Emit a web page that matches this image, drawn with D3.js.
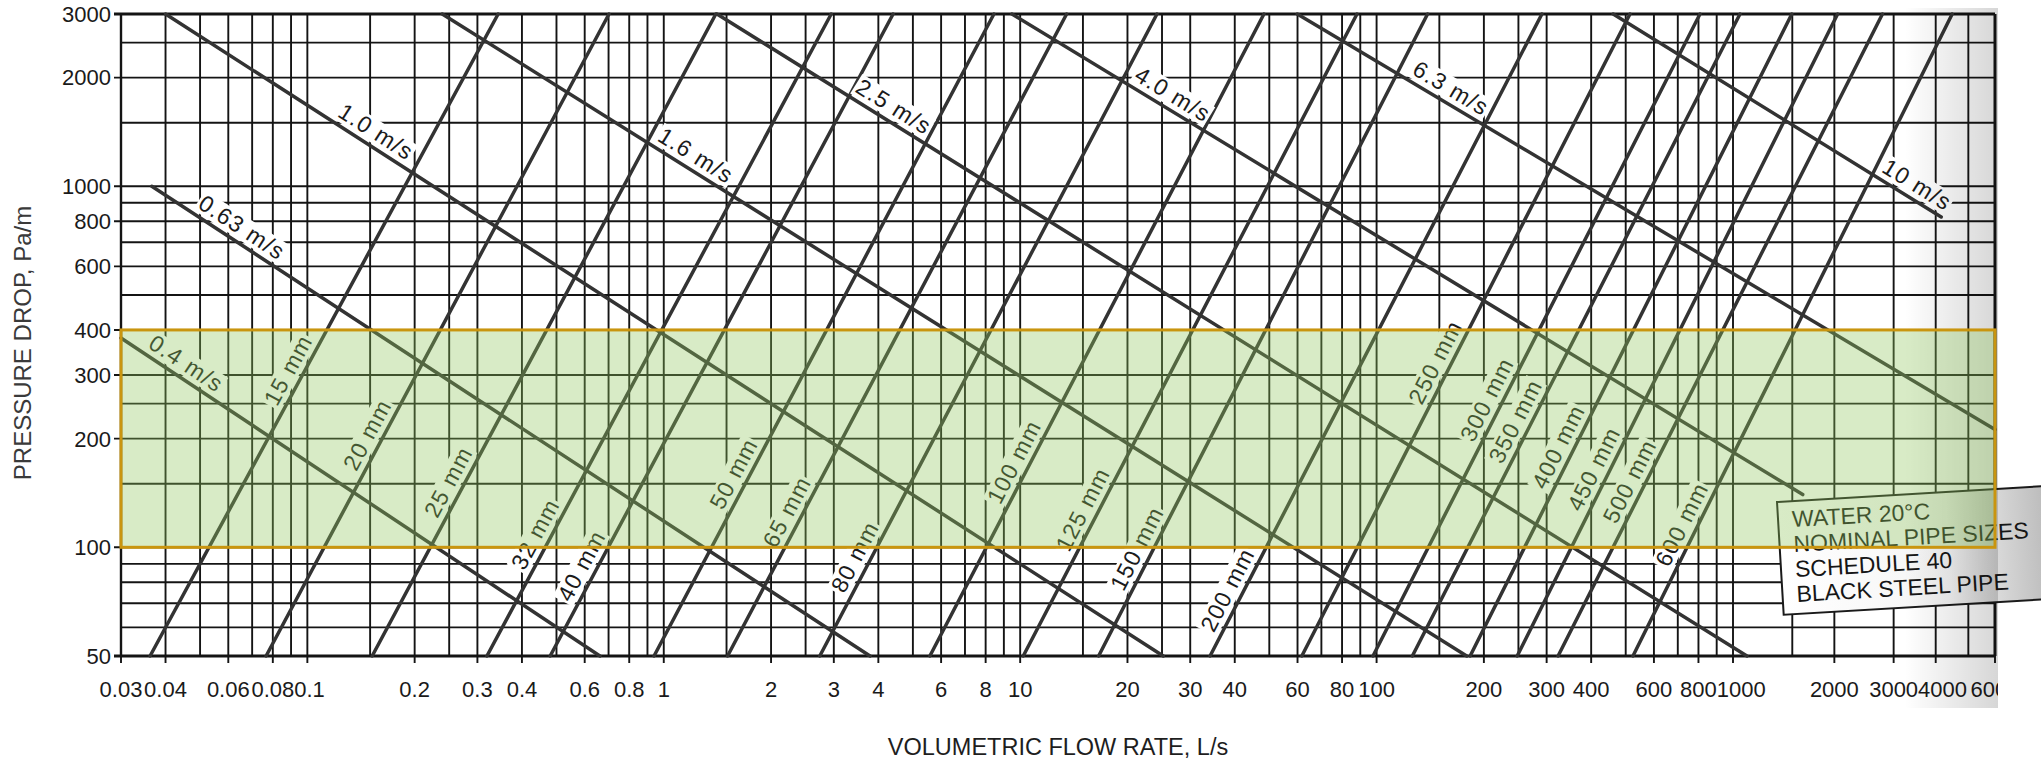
<!DOCTYPE html>
<html>
<head>
<meta charset="utf-8">
<script src="https://cdn.jsdelivr.net/npm/d3@7"></script>
<style>
  html, body { margin: 0; padding: 0; background: #ffffff; }
  svg { display: block; font-family: "Liberation Sans", Arial, Helvetica, sans-serif; }
</style>
</head>
<body>
<svg id="chart" width="2041" height="761"></svg>
<script>
// ---- grid and tick values ----
const flowGrid = [0.03, 0.04, 0.05, 0.06, 0.07, 0.08, 0.09,
  0.1, 0.15, 0.2, 0.25, 0.3, 0.4, 0.5, 0.6, 0.7, 0.8, 0.9,
  1, 1.5, 2, 2.5, 3, 4, 5, 6, 7, 8, 9,
  10, 15, 20, 25, 30, 40, 50, 60, 70, 80, 90,
  100, 150, 200, 250, 300, 400, 500, 600, 700, 800, 900,
  1000, 1500, 2000, 3000, 4000, 5000, 6000];
const flowTicks = [0.03, 0.04, 0.06, 0.08, 0.1, 0.2, 0.3, 0.4, 0.6, 0.8, 1, 2, 3, 4, 6, 8,
  10, 20, 30, 40, 60, 80, 100, 200, 300, 400, 600, 800, 1000, 2000, 3000, 4000, 6000];
const flowTickLabels = ["0.03", "0.04", "0.06", "0.08", "0.1", "0.2", "0.3", "0.4", "0.6", "0.8",
  "1", "2", "3", "4", "6", "8", "10", "20", "30", "40", "60", "80", "100", "200", "300", "400",
  "600", "800", "1000", "2000", "3000", "4000", "6000"];

const dropGrid = [50, 60, 70, 80, 90, 100, 150, 200, 250, 300, 400, 500, 600, 700, 800, 900,
  1000, 1500, 2000, 2500, 3000];
const dropTicks = [50, 100, 200, 300, 400, 600, 800, 1000, 2000, 3000];
const dropTickLabels = ["50", "100", "200", "300", "400", "600", "800", "1000", "2000", "3000"];

// ---- constant-velocity lines (flow L/s, pressure drop Pa/m at each end) ----
const velocityNames = ["0.4 m/s", "0.63 m/s", "1.0 m/s", "1.6 m/s", "2.5 m/s", "4.0 m/s", "6.3 m/s", "10 m/s"];
const velocityFromFlow = [0.03, 0.0366, 0.04, 0.239, 1.41, 9.48, 59.9, 461];
const velocityFromDrop = [380, 1000, 3000, 3000, 3000, 3000, 3000, 3000];
const velocityToFlow = [0.662, 3.79, 25.2, 179, 1100, 1611, 6000, 4153];
const velocityToDrop = [50, 50, 50, 50, 50, 140, 212, 822];
const velocityLabelFlow = [0.0434, 0.0622, 0.148, 1.17, 4.2, 25.5, 154, 3340];

// ---- nominal pipe size lines (flow at 50 Pa/m and at 3000 Pa/m) ----
const pipeNames = ["15 mm", "20 mm", "25 mm", "32 mm", "40 mm", "50 mm", "65 mm", "80 mm", "100 mm",
  "125 mm", "150 mm", "200 mm", "250 mm", "300 mm", "350 mm", "400 mm", "450 mm", "500 mm", "600 mm"];
const pipeFlowLow = [0.0362, 0.0766, 0.152, 0.319, 0.48, 0.939, 1.51, 2.74, 5.58,
  10.2, 16.6, 34.1, 61.7, 97.7, 126, 183, 248, 323, 524];
const pipeFlowHigh = [0.343, 0.702, 1.4, 2.95, 4.4, 8.44, 13.5, 24.2, 48.3,
  88.1, 139, 291, 514, 808, 1049, 1495, 2045, 2779, 4477];
const pipeDropLow = 50;
const pipeDropHigh = 3000;
const pipeLabelDrop = [296, 196, 145, 104, 85, 153, 120, 90, 165, 122, 95, 73, 312, 246, 214, 182, 158, 146, 111];

// ---- highlighted design band (Pa/m) ----
const bandDrop = [100, 400];

// ---- notes box ----
const noteLines = ["WATER 20°C", "NOMINAL PIPE SIZES", "SCHEDULE 40", "BLACK STEEL PIPE"];

const axisTitleX = "VOLUMETRIC FLOW RATE, L/s";
const axisTitleY = "PRESSURE DROP, Pa/m";

// ---- scales ----
const x = d3.scaleLog().domain([0.03, 1000, 6000]).range([121, 1733, 1995]);
const y = d3.scaleLog().domain([50, 3000]).range([656, 14]);

const svg = d3.select("#chart");
const defs = svg.append("defs");

const shade = defs.append("linearGradient").attr("id", "edgeShade")
  .attr("x1", "0").attr("x2", "1").attr("y1", "0").attr("y2", "0");
shade.append("stop").attr("offset", "0").attr("stop-color", "#000").attr("stop-opacity", 0);
shade.append("stop").attr("offset", "1").attr("stop-color", "#000").attr("stop-opacity", 0.16);

const boxShade = defs.append("linearGradient").attr("id", "boxShade")
  .attr("x1", "0").attr("x2", "1").attr("y1", "0").attr("y2", "0");
boxShade.append("stop").attr("offset", "0").attr("stop-color", "#ffffff");
boxShade.append("stop").attr("offset", "0.62").attr("stop-color", "#f4f4f4");
boxShade.append("stop").attr("offset", "1").attr("stop-color", "#b9b9b9");

defs.append("clipPath").attr("id", "labelClip")
  .append("rect").attr("x", 0).attr("y", 0).attr("width", 1998).attr("height", 761);

const [x0, x1] = [x(0.03), x(6000)];
const [yTop, yBot] = [y(3000), y(50)];

// ---- grid ----
const ink = "#141414";
const grid = svg.append("g");
grid.selectAll("line.v").data(flowGrid).join("line")
  .attr("x1", d => x(d)).attr("x2", d => x(d))
  .attr("y1", yTop).attr("y2", d => flowTicks.includes(d) ? yBot + 7 : yBot)
  .attr("stroke", ink).attr("stroke-width", 1.9);
grid.selectAll("line.h").data(dropGrid).join("line")
  .attr("y1", d => y(d)).attr("y2", d => y(d))
  .attr("x1", d => dropTicks.includes(d) ? x0 - 7 : x0).attr("x2", x1)
  .attr("stroke", ink).attr("stroke-width", 1.9);

// frame
grid.append("line").attr("x1", x0 - 7).attr("x2", x1).attr("y1", yTop).attr("y2", yTop)
  .attr("stroke", ink).attr("stroke-width", 3);
grid.append("line").attr("x1", x0 - 7).attr("x2", x1).attr("y1", yBot).attr("y2", yBot)
  .attr("stroke", ink).attr("stroke-width", 3);
grid.append("line").attr("x1", x0).attr("x2", x0).attr("y1", yTop).attr("y2", yBot)
  .attr("stroke", ink).attr("stroke-width", 2.4);
grid.append("line").attr("x1", x1).attr("x2", x1).attr("y1", yTop).attr("y2", yBot)
  .attr("stroke", ink).attr("stroke-width", 3);

// ---- diagonal lines ----
const velocity = velocityNames.map((name, i) => ({
  name,
  p1: [x(velocityFromFlow[i]), y(velocityFromDrop[i])],
  p2: [x(velocityToFlow[i]), y(velocityToDrop[i])],
  at: velocityLabelFlow[i]
}));
const pipes = pipeNames.map((name, i) => ({
  name,
  p1: [x(pipeFlowLow[i]), y(pipeDropLow)],
  p2: [x(pipeFlowHigh[i]), y(pipeDropHigh)],
  at: pipeLabelDrop[i]
}));

const lines = svg.append("g");
lines.selectAll("line.vel").data(velocity).join("line")
  .attr("x1", d => d.p1[0]).attr("y1", d => d.p1[1])
  .attr("x2", d => d.p2[0]).attr("y2", d => d.p2[1])
  .attr("stroke", "#333333").attr("stroke-width", 3.5).attr("stroke-linecap", "round");
lines.selectAll("line.pipe").data(pipes).join("line")
  .attr("x1", d => d.p1[0]).attr("y1", d => d.p1[1])
  .attr("x2", d => d.p2[0]).attr("y2", d => d.p2[1])
  .attr("stroke", "#333333").attr("stroke-width", 3.5).attr("stroke-linecap", "round");

// ---- line labels, each on a white knockout patch ----
function angleOf(d) {
  return Math.atan2(d.p2[1] - d.p1[1], d.p2[0] - d.p1[0]) * 180 / Math.PI;
}
const labelLayer = svg.append("g")
  .attr("font-size", 23).attr("letter-spacing", 1.2)
  .attr("fill", "#1b1b1b").attr("text-anchor", "middle");

function placeLabels(data, cls, pointOf) {
  const g = labelLayer.selectAll("g." + cls).data(data).join("g")
    .attr("class", cls)
    .attr("transform", d => {
      const [px, py] = pointOf(d);
      return `translate(${px},${py}) rotate(${angleOf(d)})`;
    });
  const patch = g.append("rect").attr("fill", "#ffffff");
  const txt = g.append("text").attr("y", -7).text(d => d.name);
  txt.each(function () {
    const b = this.getBBox();
    d3.select(this.parentNode).select("rect")
      .attr("x", b.x - 2).attr("width", b.width + 3)
      .attr("y", b.y + 2).attr("height", Math.min(b.height - 1, -3 - (b.y + 2)));
  });
}

placeLabels(velocity, "vel", d => {
  const px = x(d.at);
  const t = (px - d.p1[0]) / (d.p2[0] - d.p1[0]);
  return [px, d.p1[1] + t * (d.p2[1] - d.p1[1])];
});
placeLabels(pipes, "pipe", d => {
  const py = y(d.at);
  const t = (py - d.p1[1]) / (d.p2[1] - d.p1[1]);
  return [d.p1[0] + t * (d.p2[0] - d.p1[0]), py];
});

// ---- tick labels ----
const xLabels = svg.append("g").attr("clip-path", "url(#labelClip)")
  .attr("font-size", 22).attr("fill", "#1a1a1a").attr("text-anchor", "middle")
  .selectAll("text").data(flowTicks).join("text")
  .attr("x", d => x(d)).attr("y", 697)
  .text((d, i) => flowTickLabels[i]);

// nudge crowded flow labels to the right so neighbours just touch
let prevRight = -Infinity;
xLabels.each(function () {
  const w = this.getComputedTextLength();
  let cx = +this.getAttribute("x");
  if (cx - w / 2 < prevRight) cx = prevRight + w / 2;
  this.setAttribute("x", cx);
  prevRight = cx + w / 2;
});

svg.append("g")
  .attr("font-size", 22).attr("fill", "#1a1a1a").attr("text-anchor", "end")
  .selectAll("text").data(dropTicks).join("text")
  .attr("x", x0 - 10).attr("y", d => y(d)).attr("dy", "0.36em")
  .text((d, i) => dropTickLabels[i]);

// ---- axis titles ----
svg.append("text").attr("x", 1058).attr("y", 755)
  .attr("text-anchor", "middle").attr("font-size", 23.5).attr("fill", "#1e1e1e")
  .text(axisTitleX);
svg.append("text")
  .attr("transform", `translate(31,${(y(3000) + y(50)) / 2 + 8}) rotate(-90)`)
  .attr("text-anchor", "middle").attr("font-size", 24).attr("fill", "#3a3a3a")
  .text(axisTitleY);

// ---- notes box ----
const note = svg.append("g").attr("transform", "translate(1777,502) rotate(-3.4)");
note.append("rect").attr("x", 0).attr("y", 0).attr("width", 272).attr("height", 113)
  .attr("fill", "url(#boxShade)").attr("stroke", "#1a1a1a").attr("stroke-width", 2);
note.selectAll("text").data(noteLines).join("text")
  .attr("x", 14).attr("y", (d, i) => 26 + i * 25)
  .attr("font-size", 23).attr("fill", "#161616")
  .text(d => d);

// ---- page shading at the right edge of the grid ----
svg.append("rect").attr("x", 1905).attr("y", 8).attr("width", x1 - 1905 + 3).attr("height", 700)
  .attr("fill", "url(#edgeShade)").attr("pointer-events", "none");

// ---- design band highlight ----
svg.append("rect")
  .attr("x", x0).attr("y", y(bandDrop[1]))
  .attr("width", x1 - x0).attr("height", y(bandDrop[0]) - y(bandDrop[1]))
  .attr("fill", "rgb(143,198,92)").attr("fill-opacity", 0.35)
  .attr("stroke", "#c9950f").attr("stroke-width", 3);
</script>
</body>
</html>
